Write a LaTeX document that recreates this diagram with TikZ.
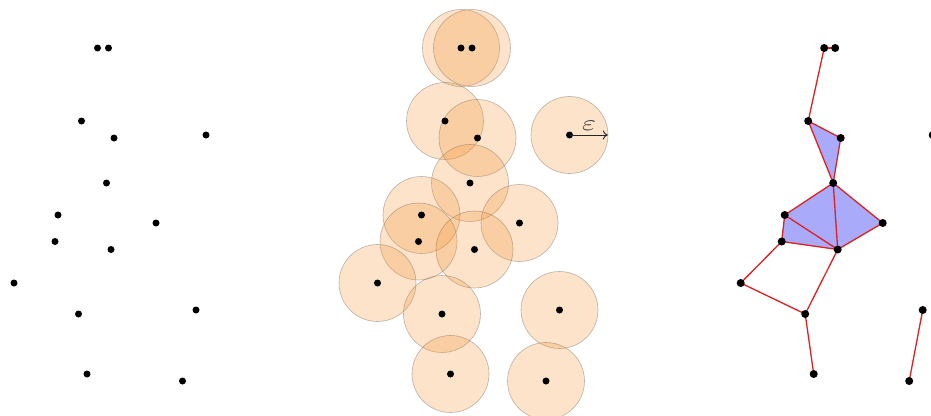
\documentclass[tikz,border=0pt]{standalone}
\usetikzlibrary{arrows.meta}
\definecolor{ballfill}{RGB}{243,147,51}
\definecolor{ballline}{RGB}{110,95,80}
\definecolor{simplexfill}{RGB}{170,170,250}
\definecolor{edgered}{RGB}{222,32,32}
\definecolor{epsgray}{RGB}{60,60,60}
\def\pts{A/97.5/48, B/108.5/48, C/81.5/121, D/114/138, E/206/135, F/106.5/183, G/58/215, H/156/223, I/55/241.5, J/111/249.5, K/14/283, L/78.5/314, M/196/310, N/87/374, O/182.5/381}
\begin{document}
\begin{tikzpicture}[x=1pt,y=-1pt,
  dot/.style={circle,fill=black,inner sep=0pt,minimum size=7pt},
  rdot/.style={circle,fill=black,inner sep=0pt,minimum size=8pt},
  ball/.style={fill=ballfill,fill opacity=0.26,draw=ballline,draw opacity=0.45,line width=0.6pt},
  simplex/.style={fill=simplexfill},
  edge/.style={draw=edgered,line width=1.3pt},
  epsarrow/.style={-{To[length=5pt,width=9pt]},line width=0.9pt,draw=black!85}]
\useasboundingbox (0,0) rectangle (931,415);
\clip (0,0) rectangle (931,415);
% left panel: points
\foreach \n/\x/\y in \pts {\node[dot] (L\n) at (\x,\y) {};}
% middle panel: balls of radius epsilon
\foreach \n/\x/\y in \pts {\path[ball] (\x+363.5,\y) circle[radius=38.5];}
\foreach \n/\x/\y in \pts {\node[dot] (M\n) at (\x+363.5,\y) {};}
\coordinate (epsend) at (607.8,135);
\draw[epsarrow] (ME.center) -- (epsend);
\node[text=epsgray,inner sep=0pt,xscale=3,yscale=2.2] (epslabel) at (589,126) {$\varepsilon$};
% right panel: complex
\foreach \n/\x/\y in \pts {\coordinate (R\n) at (\x+726.7,\y);}
\fill[simplex] (RC) -- (RD) -- (RF) -- cycle;
\fill[simplex] (RF) -- (RH) -- (RJ) -- (RI) -- (RG) -- cycle;
\foreach \a/\b in {A/B, A/C, C/D, C/F, D/F, F/G, F/J, F/H, G/J, H/J, G/I, I/J, I/K, K/L, L/J, L/N, M/O}
  {\draw[edge] (R\a) -- (R\b);}
\foreach \n/\x/\y in \pts {\node[rdot] (RN\n) at (R\n) {};}
\end{tikzpicture}
\end{document}
